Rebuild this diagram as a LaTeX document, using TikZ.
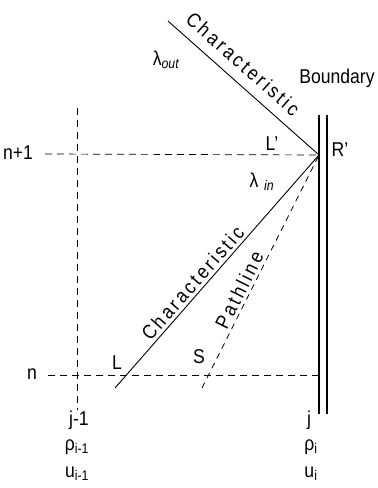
\documentclass[tikz,border=0pt]{standalone}
\usepackage{fontspec}
\setmainfont{Liberation Sans}[FakeStretch=0.88]
\begin{document}
\begin{tikzpicture}[x=1pt,y=1pt,
  lbl/.style={font=\fontsize{20}{22}\selectfont, inner sep=0pt},
  slbl/.style={font=\fontsize{20}{22}\selectfont\addfontfeature{LetterSpace=14}, inner sep=0pt, sloped},
  gridline/.style={line width=0.7pt, dash pattern=on 7pt off 5pt},
  charline/.style={line width=0.9pt},
  pathl/.style={line width=0.8pt, dash pattern=on 6pt off 5pt},
  wall/.style={line width=1.1pt}]
\useasboundingbox (0,0) rectangle (378,488);
% coordinates
\coordinate (Rp) at (319,333);
\coordinate (Lt) at (168,467);
\coordinate (Lb) at (115,100);
\coordinate (Sb) at (202,100);
\coordinate (n1L) at (45,334);
\coordinate (nL) at (48,113);
\coordinate (nR) at (319,113);
\coordinate (vT) at (77,380);
\coordinate (vB) at (77,78);
\coordinate (b1T) at (319,373);
\coordinate (b1B) at (319,74);
\coordinate (b2T) at (327,373);
\coordinate (b2B) at (327,74);
% grid lines
\draw[gridline] (n1L) -- (Rp);
\draw[gridline] (nL) -- (nR);
\draw[gridline] (vT) -- (vB);
% boundary
\draw[wall] (b1T) -- (b1B);
\draw[wall] (b2T) -- (b2B);
% characteristics and pathline
\draw[charline] (Lt) -- (Rp) node[slbl, pos=0.42, above=10pt] (cup) {Characteristic};
\draw[charline] (Lb) -- (Rp) node[slbl, pos=0.42, above=3pt] (clow) {Characteristic};
\draw[pathl] (Sb) -- (Rp) node[slbl, pos=0.40, above=3pt] (pl) {Pathline};
% labels
\node[lbl] (bnd) at (337,410) {Boundary};
\node[lbl] (lab-Lp) at (272,344) {L'};
\node[lbl] (lab-Rp) at (340,338) {R'};
\node[lbl] (lout) at (166,428) {λ\textsubscript{\itshape out}};
\node[lbl] (lin) at (262,306) {λ\textsubscript{\itshape\, in}};
\node[lbl] (lab-n1) at (18,335) {n+1};
\node[lbl] (lab-n) at (32,114) {n};
\node[lbl] (lab-L) at (117,125) {L};
\node[lbl] (lab-S) at (199,131) {S};
\node[lbl] (jm1) at (79,68) {j-1};
\node[lbl] (rhom) at (77,41) {ρ\textsubscript{i-1}};
\node[lbl] (um) at (77,14) {u\textsubscript{i-1}};
\node[lbl] (jj) at (309,68) {j};
\node[lbl] (rhoj) at (311,41) {ρ\textsubscript{i}};
\node[lbl] (uj) at (311,14) {u\textsubscript{i}};
\end{tikzpicture}
\end{document}
